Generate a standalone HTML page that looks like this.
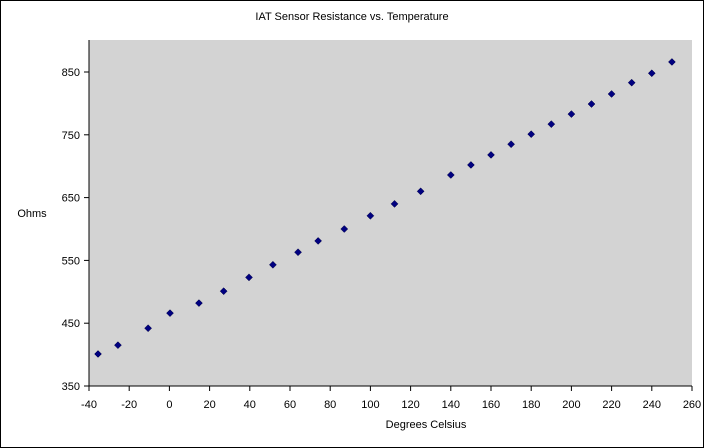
<!DOCTYPE html>
<html><head><meta charset="utf-8"><style>
html,body{margin:0;padding:0;background:#fff}
svg{display:block;font-family:"Liberation Sans",sans-serif}
</style></head><body>
<svg id="c" width="704" height="448">
<rect x="0.5" y="0.5" width="703" height="447" fill="#fff" stroke="#000"/>
<text x="352" y="20" text-anchor="middle" font-size="11">IAT Sensor Resistance vs. Temperature</text>
<rect x="89" y="40" width="603" height="346" fill="#d3d3d3"/>
<text x="426" y="428" text-anchor="middle" font-size="11">Degrees Celsius</text>
<text x="32" y="217" text-anchor="middle" font-size="11">Ohms</text>
<g id="g"></g>
</svg>
<script>
const xTicks=[-40,-20,0,20,40,60,80,100,120,140,160,180,200,220,240,260];
const yTicks=[350,450,550,650,750,850];
const temps=[-35.5,-25.6,-10.6,0.3,14.7,27,39.6,51.5,64,74,87,100,112,125,140,150,160,170,180,190,200,210,220,230,240,250];
const ohms=[401,415,442,466,482,501,523,543,563,581,600,621,640,660,686,702,718,735,751,767,783,799,815,833,848,866];
const X=v=>89+(v+40)*603/300;
const Y=v=>386-(v-350)*0.628;
const g=document.getElementById('g');
const NS='http://www.w3.org/2000/svg';
function mk(t,a){const e=document.createElementNS(NS,t);for(const k in a)e.setAttribute(k,a[k]);g.appendChild(e);return e;}
let ax=mk('line',{x1:89,y1:386,x2:692,y2:386,stroke:'#000'});


let ay=mk('line',{x1:89,y1:40,x2:89,y2:386,stroke:'#000'});


xTicks.forEach(v=>{
 const l=mk('line',{x1:X(v),y1:386,x2:X(v),y2:391,stroke:'#000'});
 
 
 const t=mk('text',{x:X(v),y:408,'text-anchor':'middle','font-size':11});
 t.textContent=v;
 
 
});
yTicks.forEach(v=>{
 const l=mk('line',{x1:84,y1:Y(v),x2:89,y2:Y(v),stroke:'#000'});
 
 
 const t=mk('text',{x:80,y:Y(v)+4,'text-anchor':'end','font-size':11});
 t.textContent=v;
 
 
});
temps.forEach((v,i)=>{
 const x=X(v),y=Y(ohms[i]);
 const p=mk('polygon',{points:`${x},${y-3.5} ${x+3.5},${y} ${x},${y+3.5} ${x-3.5},${y}`,fill:'#000080',stroke:'#000040','stroke-width':0.5});
 
 
});
</script>
</body></html>
